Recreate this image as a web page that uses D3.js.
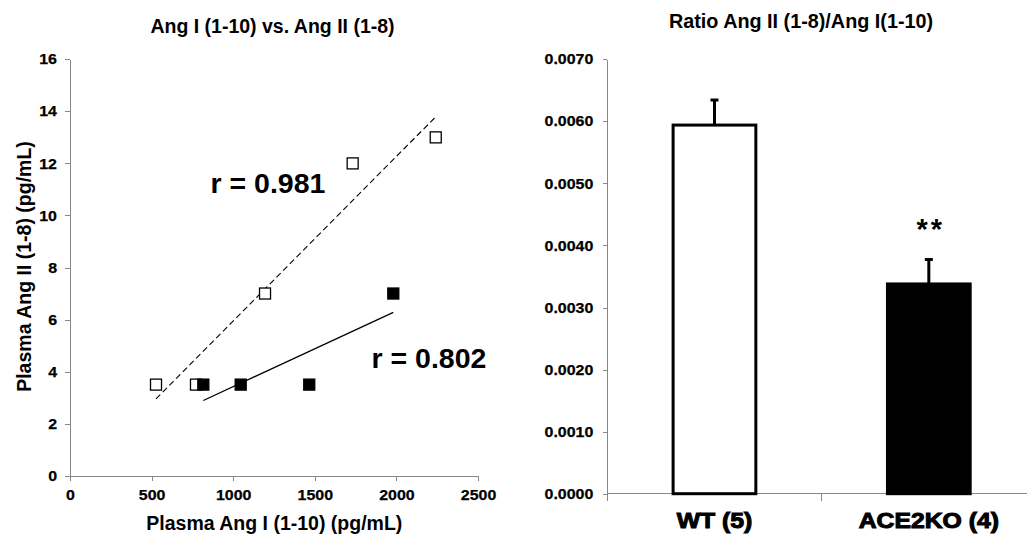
<!DOCTYPE html>
<html>
<head>
<meta charset="utf-8">
<script src="https://cdn.jsdelivr.net/npm/d3@7"></script>
<style>
  html, body { margin: 0; padding: 0; background: #fff; }
  svg { display: block; font-family: "Liberation Sans", Arial, sans-serif; }
  .axis path, .axis line { stroke: #888; stroke-width: 1px; shape-rendering: crispEdges; }
  .axis text { fill: #000; font-weight: bold; font-family: "Liberation Sans", Arial, sans-serif; }
</style>
</head>
<body>
<svg id="chart" width="1027" height="540"></svg>
<script>
// Scatter: plasma Ang I (1-10) vs Ang II (1-8), pg/mL
const wtAngI   = [527, 772, 1195, 1732, 2241];
const wtAngII  = [3.5, 3.5, 7, 12, 13];
const koAngI   = [817, 1046, 1466, 1981];
const koAngII  = [3.5, 3.5, 3.5, 7];
const rLabels  = ["r = 0.981", "r = 0.802"];
const xTicks   = [0, 500, 1000, 1500, 2000, 2500];
const yTicks   = [0, 2, 4, 6, 8, 10, 12, 14, 16];

// Bars: Ang II / Ang I ratio, mean + SEM
const groups     = ["WT (5)", "ACE2KO (4)"];
const ratioMean  = [0.00594, 0.00338];
const ratioErr   = [0.00042, 0.00041];
const ratioTicks = [0, 0.001, 0.002, 0.003, 0.004, 0.005, 0.006, 0.007];
const sigMark    = "**";

const svg = d3.select("#chart");

// slightly wide, heavy tick text
function styleTicks(sel, size, widen) {
  sel.selectAll("text")
    .style("font-size", size + "px")
    .style("stroke", "#000").style("stroke-width", "0.25px")
    .each(function () {
      const w = this.getComputedTextLength();
      d3.select(this).attr("textLength", w * widen).attr("lengthAdjust", "spacingAndGlyphs");
    });
}

// ---------- left panel: scatter ----------
const x = d3.scaleLinear().domain([0, 2500]).range([70, 478]);
const y = d3.scaleLinear().domain([0, 16]).range([475.7, 59.3]);

const gx = svg.append("g").attr("class", "axis")
  .attr("transform", `translate(0,${y(0)})`)
  .call(d3.axisBottom(x).tickValues(xTicks).tickFormat(d3.format("d"))
        .tickSize(5).tickSizeOuter(0).tickPadding(9));
styleTicks(gx, 14.5, 1.1);

const gy = svg.append("g").attr("class", "axis")
  .attr("transform", `translate(${x(0)},0)`)
  .call(d3.axisLeft(y).tickValues(yTicks).tickSize(5).tickSizeOuter(0).tickPadding(8));
styleTicks(gy, 14.5, 1.1);

// least-squares fit drawn across the range of each group
function fit(xs, ys) {
  const mx = d3.mean(xs), my = d3.mean(ys);
  const sxy = d3.sum(xs, (v, i) => (v - mx) * (ys[i] - my));
  const sxx = d3.sum(xs, v => (v - mx) * (v - mx));
  const b = sxy / sxx, a = my - b * mx;
  const x0 = d3.min(xs), x1 = d3.max(xs);
  return [[x0, a + b * x0], [x1, a + b * x1]];
}
const line = d3.line().x(d => x(d[0])).y(d => y(d[1]));

svg.append("path").datum(fit(wtAngI, wtAngII))
  .attr("d", line).attr("fill", "none").attr("stroke", "#000")
  .attr("stroke-width", 1.1).attr("stroke-dasharray", "6,3.5");
svg.append("path").datum(fit(koAngI, koAngII))
  .attr("d", line).attr("fill", "none").attr("stroke", "#000")
  .attr("stroke-width", 1.3);

const sq = 11;
svg.append("g").selectAll("rect")
  .data(wtAngI.map((v, i) => [v, wtAngII[i]]))
  .join("rect")
  .attr("x", d => x(d[0]) - sq / 2).attr("y", d => y(d[1]) - sq / 2)
  .attr("width", sq).attr("height", sq)
  .attr("fill", "#fff").attr("stroke", "#000").attr("stroke-width", 1.3);
svg.append("g").selectAll("rect")
  .data(koAngI.map((v, i) => [v, koAngII[i]]))
  .join("rect")
  .attr("x", d => x(d[0]) - sq / 2).attr("y", d => y(d[1]) - sq / 2)
  .attr("width", sq).attr("height", sq)
  .attr("fill", "#000").attr("stroke", "#000").attr("stroke-width", 1.3);

// correlation labels
svg.append("text").text(rLabels[0])
  .attr("x", 210.5).attr("y", 193.3)
  .style("font-size", "28.5px").style("font-weight", "bold");
svg.append("text").text(rLabels[1])
  .attr("x", 371.5).attr("y", 368.3)
  .style("font-size", "28.5px").style("font-weight", "bold");

// titles
svg.append("text").text("Ang I (1-10) vs. Ang II (1-8)")
  .attr("x", 272.5).attr("y", 33).attr("text-anchor", "middle")
  .style("font-size", "19.5px").style("font-weight", "bold");
svg.append("text").text("Plasma Ang I (1-10) (pg/mL)")
  .attr("x", 274.3).attr("y", 529.5).attr("text-anchor", "middle")
  .style("font-size", "19.5px").style("font-weight", "bold");
svg.append("text").text("Plasma Ang II (1-8) (pg/mL)")
  .attr("transform", "rotate(-90)")
  .attr("x", -266.5).attr("y", 31).attr("text-anchor", "middle")
  .style("font-size", "19.5px").style("font-weight", "bold");

// ---------- right panel: bars ----------
const xb = d3.scaleBand().domain(groups).range([607.3, 1036])
  .paddingInner(0.6).paddingOuter(0.3);
const yb = d3.scaleLinear().domain([0, 0.007]).range([493.7, 59.3]);

const gyb = svg.append("g").attr("class", "axis")
  .attr("transform", `translate(607.3,0)`)
  .call(d3.axisLeft(yb).tickValues(ratioTicks).tickFormat(d3.format(".4f"))
        .tickSize(4).tickSizeOuter(0).tickPadding(10));
styleTicks(gyb, 14.5, 1.1);

// category axis: boundary ticks between groups, labels under bars
const gxb = svg.append("g").attr("class", "axis")
  .attr("transform", `translate(0,${yb(0)})`);
gxb.append("line").attr("x1", 607.3).attr("x2", 1036);
const step = xb.step();
gxb.selectAll("line.tk")
  .data(d3.range(groups.length + 1))
  .join("line").attr("class", "tk")
  .attr("x1", i => 607.3 + i * step).attr("x2", i => 607.3 + i * step)
  .attr("y1", 0).attr("y2", 7);
const catLabels = gxb.selectAll("text")
  .data(groups).join("text")
  .attr("x", d => xb(d) + xb.bandwidth() / 2)
  .attr("y", 528.3 - yb(0))
  .attr("text-anchor", "middle")
  .style("font-size", "21.5px")
  .style("stroke", "#000").style("stroke-width", "1px")
  .text(d => d);
// widen the heavy category labels a little
catLabels.each(function () {
  const w = this.getComputedTextLength();
  d3.select(this).attr("textLength", w * 1.15).attr("lengthAdjust", "spacingAndGlyphs");
});

const bw = xb.bandwidth();
// error bars (upper only)
groups.forEach((g, i) => {
  const cx = xb(g) + bw / 2;
  svg.append("line")
    .attr("x1", cx).attr("x2", cx)
    .attr("y1", yb(ratioMean[i])).attr("y2", yb(ratioMean[i] + ratioErr[i]))
    .attr("stroke", "#000").attr("stroke-width", 3);
  svg.append("line")
    .attr("x1", cx - 4).attr("x2", cx + 4)
    .attr("y1", yb(ratioMean[i] + ratioErr[i]) + 1).attr("y2", yb(ratioMean[i] + ratioErr[i]) + 1)
    .attr("stroke", "#000").attr("stroke-width", 3);
});

svg.append("g").selectAll("rect")
  .data(groups)
  .join("rect")
  .attr("x", d => xb(d) + 1.5)
  .attr("y", (d, i) => yb(ratioMean[i]))
  .attr("width", bw - 3)
  .attr("height", (d, i) => yb(0) - yb(ratioMean[i]))
  .attr("fill", (d, i) => i === 0 ? "#fff" : "#000")
  .attr("stroke", "#000").attr("stroke-width", 3);

// significance marker over the knockout bar
svg.append("text").text(sigMark)
  .attr("x", xb(groups[1]) + bw / 2 + 2).attr("y", 239)
  .attr("text-anchor", "middle")
  .style("font-size", "29px").style("font-weight", "bold").style("letter-spacing", "3px");

svg.append("text").text("Ratio Ang II (1-8)/Ang I(1-10)")
  .attr("x", 801).attr("y", 28).attr("text-anchor", "middle")
  .style("font-size", "19.8px").style("font-weight", "bold");
</script>
</body>
</html>
